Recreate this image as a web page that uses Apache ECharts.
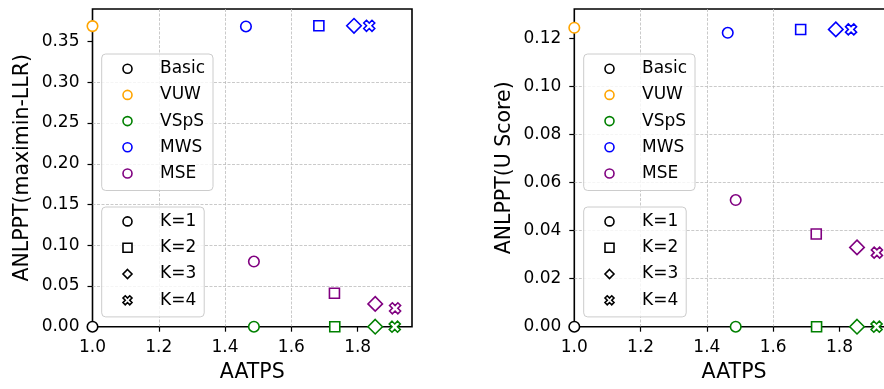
<!DOCTYPE html>
<html>
<head>
<meta charset="utf-8">
<script src="https://cdn.jsdelivr.net/npm/echarts@6/dist/echarts.min.js"></script>
<style>html,body{margin:0;padding:0;background:#fff;}#c{width:884px;height:389px;}</style>
</head>
<body>
<div id="c"></div>
<script>
// ---- data ----
const methods = ['Basic', 'VUW', 'VSpS', 'MWS', 'MSE'];
const methodColors = ['#000000', '#ffa500', '#008000', '#0000ff', '#800080'];
const kLabels = ['K=1', 'K=2', 'K=3', 'K=4'];

// AATPS (x) per method, one value per K
const basicX = [1.0];
const vuwX = [1.0];
const vspsX = [1.487, 1.731, 1.853, 1.912];
const mwsX = [1.463, 1.683, 1.789, 1.835];
const mseX = [1.487, 1.730, 1.853, 1.913];

// ANLPPT(maximin-LLR)
const basicLLR = [0.0];
const vuwLLR = [0.369];
const vspsLLR = [0.0, 0.0, 0.0, 0.0];
const mwsLLR = [0.3686, 0.3694, 0.3694, 0.3694];
const mseLLR = [0.080, 0.041, 0.028, 0.0226];

// ANLPPT(U Score)
const basicU = [0.0];
const vuwU = [0.1244];
const vspsU = [0.0, 0.0, 0.0, 0.0];
const mwsU = [0.1223, 0.1237, 0.1237, 0.1237];
const mseU = [0.0527, 0.0386, 0.0330, 0.0308];

// tick labels
const xTickValues = [1.0, 1.2, 1.4, 1.6, 1.8];
const xTickLabels = ['1.0', '1.2', '1.4', '1.6', '1.8'];
const yTickValuesLLR = [0.00, 0.05, 0.10, 0.15, 0.20, 0.25, 0.30, 0.35];
const yTickLabelsLLR = ['0.00', '0.05', '0.10', '0.15', '0.20', '0.25', '0.30', '0.35'];
const yTickValuesU = [0.00, 0.02, 0.04, 0.06, 0.08, 0.10, 0.12];
const yTickLabelsU = ['0.00', '0.02', '0.04', '0.06', '0.08', '0.10', '0.12'];

// ---- styling ----
const FONT = 'DejaVu Sans';
const xPath = 'path://M-1,-2L0,-1L1,-2L2,-1L1,0L2,1L1,2L0,1L-1,2L-2,1L-1,0L-2,-1Z';
const kSymbols = ['circle', 'rect', 'diamond', xPath];
const kSizes = [10.5, 10, 14.5, 11];

function lookup(values, labels) {
  return function (v) {
    for (let i = 0; i < values.length; i++) {
      if (Math.abs(values[i] - v) < 1e-9) return labels[i];
    }
    return '';
  };
}

const xsets = [basicX, vuwX, vspsX, mwsX, mseX];
const ysetsL = [basicLLR, vuwLLR, vspsLLR, mwsLLR, mseLLR];
const ysetsU = [basicU, vuwU, vspsU, mwsU, mseU];

function makeSeries(gridIdx, ysets) {
  return methods.map((m, mi) => ({
    name: m,
    type: 'scatter',
    xAxisIndex: gridIdx,
    yAxisIndex: gridIdx,
    clip: false,
    z: 5,
    itemStyle: { color: '#ffffff', borderColor: methodColors[mi], borderWidth: 1.6, opacity: 1 },
    emphasis: { disabled: true },
    data: xsets[mi].map((x, k) => ({
      value: [x, ysets[mi][k]],
      symbol: kSymbols[k],
      symbolSize: kSizes[k]
    }))
  }));
}

const dummy = kLabels.map((k) => ({
  name: k, type: 'scatter', data: [], xAxisIndex: 0, yAxisIndex: 0,
  itemStyle: { color: '#fff', borderColor: '#000', borderWidth: 1.5, opacity: 1 }
}));

function xAxis(gridIdx) {
  return {
    type: 'value', gridIndex: gridIdx, min: 1.0, max: 1.964,
    name: 'AATPS', nameLocation: 'middle', nameGap: 34,
    nameTextStyle: { fontFamily: FONT, fontSize: 20.5, color: '#000', lineHeight: 24 },
    axisLine: { show: false },
    axisTick: { show: true, inside: false, length: 5, customValues: xTickValues,
      lineStyle: { color: '#000', width: 1.2 } },
    axisLabel: { show: true, customValues: xTickValues, margin: 12,
      fontFamily: FONT, fontSize: 17, color: '#000',
      formatter: lookup(xTickValues, xTickLabels) },
    splitLine: { show: true, showMinLine: false, showMaxLine: false,
      lineStyle: { color: '#bdbdbd', width: 0.8, type: [3, 1.5] } }
  };
}

function yAxis(gridIdx, max, name, vals, labs) {
  return {
    type: 'value', gridIndex: gridIdx, min: 0, max: max,
    name: name, nameLocation: 'middle', nameGap: 58, nameRotate: 90,
    nameTextStyle: { fontFamily: FONT, fontSize: 20.5, color: '#000', lineHeight: 24 },
    axisLine: { show: false },
    axisTick: { show: true, inside: false, length: 5, customValues: vals,
      lineStyle: { color: '#000', width: 1.2 } },
    axisLabel: { show: true, customValues: vals, margin: 13,
      fontFamily: FONT, fontSize: 17, color: '#000',
      formatter: lookup(vals, labs) },
    splitLine: { show: true, showMinLine: false, showMaxLine: false,
      lineStyle: { color: '#bdbdbd', width: 0.8, type: [3, 1.5] } }
  };
}

function methodLegend(left) {
  return {
    orient: 'vertical', left: left, top: 54,
    selectedMode: false,
    itemWidth: 9, itemHeight: 9, itemGap: 6.2,
    padding: [4.7, 8, 7, 20.5],
    backgroundColor: 'rgba(255,255,255,0.8)',
    borderColor: '#cccccc', borderWidth: 1, borderRadius: 4,
    textStyle: { fontFamily: FONT, fontSize: 17, color: '#000', lineHeight: 20, padding: [0, 0, 0, 23] },
    data: methods.map((m, i) => ({
      name: m, icon: 'circle',
      itemStyle: { color: '#fff', borderColor: methodColors[i], borderWidth: 1.6, opacity: 1 }
    }))
  };
}

function kLegend(left) {
  return {
    orient: 'vertical', left: left, top: 207,
    selectedMode: false,
    itemWidth: 9, itemHeight: 9, itemGap: 6.3,
    padding: [4.4, 8, 6.6, 20.5],
    backgroundColor: 'rgba(255,255,255,0.8)',
    borderColor: '#cccccc', borderWidth: 1, borderRadius: 4,
    textStyle: { fontFamily: FONT, fontSize: 17, color: '#000', lineHeight: 20, padding: [0, 0, 0, 23] },
    data: kLabels.map((k, i) => ({
      name: k, icon: kSymbols[i],
      itemStyle: { color: '#fff', borderColor: '#000', borderWidth: 1.6, opacity: 1 }
    }))
  };
}

const chart = echarts.init(document.getElementById('c'), null, { renderer: 'canvas' });
chart.setOption({
  animation: false,
  backgroundColor: '#ffffff',
  textStyle: { fontFamily: FONT },
  grid: [
    { left: 92.5, top: 9, width: 319.5, height: 317.7, show: true, borderColor: '#000', borderWidth: 1.6,
      backgroundColor: 'transparent', outerBoundsMode: 'none', containLabel: false },
    { left: 574.3, top: 9, width: 319.5, height: 317.7, show: true, borderColor: '#000', borderWidth: 1.6,
      backgroundColor: 'transparent', outerBoundsMode: 'none', containLabel: false }
  ],
  xAxis: [xAxis(0), xAxis(1)],
  yAxis: [
    yAxis(0, 0.39, 'ANLPPT(maximin-LLR)', yTickValuesLLR, yTickLabelsLLR),
    yAxis(1, 0.1322, 'ANLPPT(U Score)', yTickValuesU, yTickLabelsU)
  ],
  legend: [methodLegend(101.7), kLegend(101.7), methodLegend(583.7), kLegend(583.7)],
  series: [].concat(makeSeries(0, ysetsL), makeSeries(1, ysetsU), dummy)
});
</script>
</body>
</html>
